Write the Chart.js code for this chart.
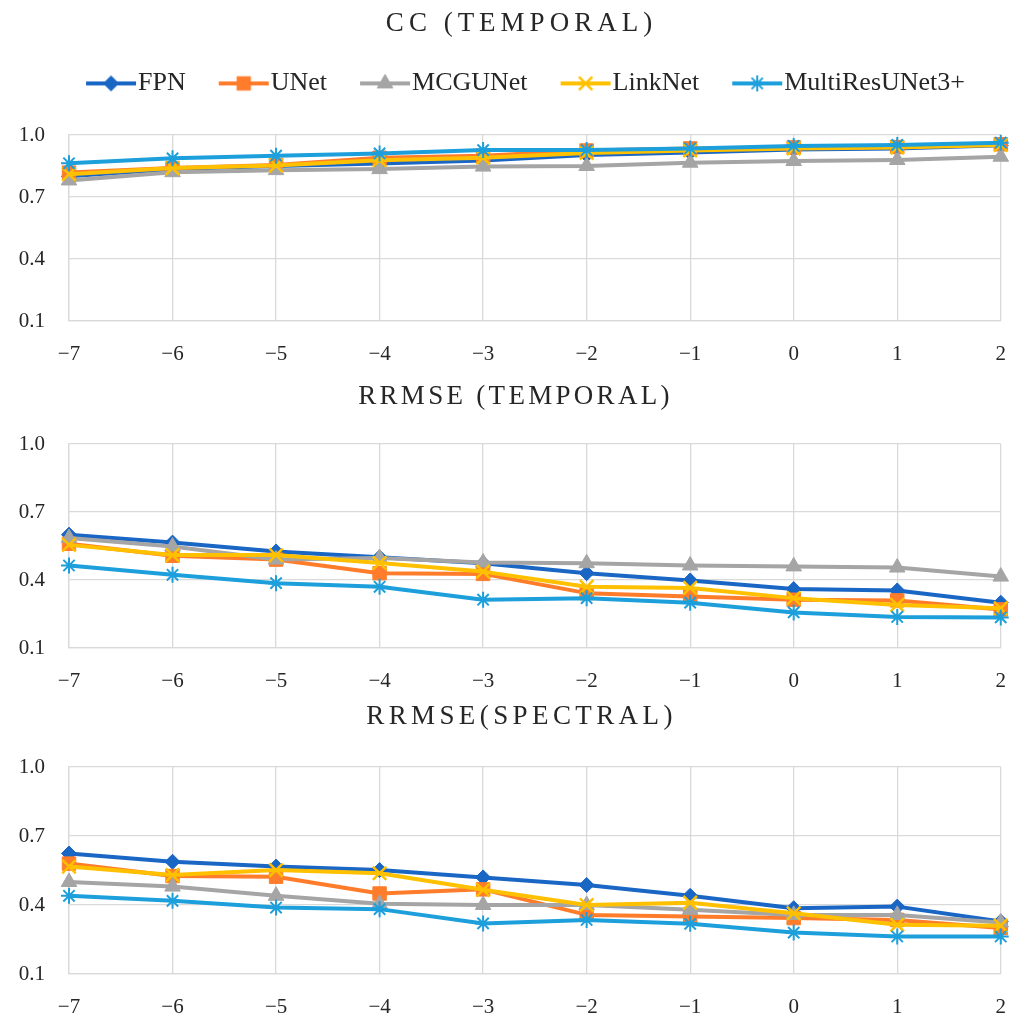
<!DOCTYPE html>
<html>
<head>
<meta charset="utf-8">
<script src="https://cdn.jsdelivr.net/npm/chart.js@4.4.0/dist/chart.umd.min.js"></script>
<style>
  html, body { margin: 0; padding: 0; background: #fff; }
  .panel { position: absolute; left: 0; width: 1027px; }
</style>
</head>
<body>
<div class="panel" style="top:0;height:370px"><canvas id="ccTemporal"></canvas></div>
<div class="panel" style="top:370px;height:325px"><canvas id="rrmseTemporal"></canvas></div>
<div class="panel" style="top:695px;height:326px"><canvas id="rrmseSpectral"></canvas></div>
<script>
// ---- data ----
const shifts = ['−7', '−6', '−5', '−4', '−3', '−2', '−1', '0', '1', '2'];
const yTicks = [0.1, 0.4, 0.7, 1.0];
const models = ['FPN', 'UNet', 'MCGUNet', 'LinkNet', 'MultiResUNet3+'];

// CC (TEMPORAL)
const ccFPN      = [0.800, 0.835, 0.850, 0.862, 0.877, 0.903, 0.915, 0.930, 0.935, 0.950];
const ccUNet     = [0.818, 0.840, 0.855, 0.890, 0.900, 0.925, 0.935, 0.940, 0.942, 0.955];
const ccMCGUNet  = [0.780, 0.820, 0.830, 0.835, 0.847, 0.850, 0.866, 0.874, 0.879, 0.895];
const ccLinkNet  = [0.810, 0.840, 0.852, 0.878, 0.890, 0.913, 0.925, 0.935, 0.940, 0.952];
const ccMultiRes = [0.863, 0.887, 0.900, 0.911, 0.927, 0.927, 0.935, 0.947, 0.952, 0.963];

// RRMSE (TEMPORAL)
const rtFPN      = [0.600, 0.565, 0.526, 0.500, 0.474, 0.430, 0.398, 0.360, 0.354, 0.300];
const rtUNet     = [0.560, 0.507, 0.490, 0.430, 0.427, 0.342, 0.327, 0.313, 0.310, 0.270];
const rtMCGUNet  = [0.585, 0.548, 0.490, 0.497, 0.477, 0.474, 0.464, 0.460, 0.455, 0.415];
const rtLinkNet  = [0.555, 0.510, 0.510, 0.475, 0.437, 0.370, 0.365, 0.320, 0.290, 0.275];
const rtMultiRes = [0.464, 0.423, 0.386, 0.370, 0.313, 0.320, 0.300, 0.257, 0.237, 0.235];

// RRMSE (SPECTRAL)
const rsFPN      = [0.624, 0.588, 0.567, 0.552, 0.520, 0.487, 0.440, 0.386, 0.393, 0.328];
const rsUNet     = [0.580, 0.526, 0.523, 0.450, 0.468, 0.357, 0.350, 0.343, 0.335, 0.300];
const rsMCGUNet  = [0.500, 0.480, 0.440, 0.405, 0.400, 0.400, 0.379, 0.357, 0.357, 0.324];
const rsLinkNet  = [0.567, 0.530, 0.552, 0.538, 0.466, 0.400, 0.410, 0.364, 0.314, 0.310];
const rsMultiRes = [0.440, 0.418, 0.389, 0.382, 0.320, 0.335, 0.318, 0.280, 0.263, 0.263];

// ---- look ----
const colors       = ['#1a66c4', '#ff7c2a', '#a5a5a5', '#ffc000', '#1d9fdc'];
const markerStyles = ['rectRot', 'rect', 'triangle', 'crossRot', 'star'];
const markerRadius = [7.5, 9.5, 9, 9.5, 8];
const markerBorder = [1, 1, 1, 2.5, 2];
const LINE_W = 4;
const GRID = '#d9d9d9';
const INK = '#262626';
const SERIF = '"Liberation Serif", "DejaVu Serif", serif';
const LEGEND_FONT = 26;

Chart.defaults.font.family = SERIF;
Chart.defaults.color = INK;

// legend swatch: short line with the marker on it, drawn right-aligned
// so the label text sits right after it
const ICON_W = 86, ICON_H = 26;
function legendIcon(i) {
    const c = document.createElement('canvas');
    c.width = ICON_W; c.height = ICON_H;
    const ctx = c.getContext('2d');
    const x0 = ICON_W - 51, x1 = ICON_W - 1, y = ICON_H / 2;
    ctx.strokeStyle = colors[i];
    ctx.fillStyle = colors[i];
    ctx.lineWidth = LINE_W;
    ctx.beginPath(); ctx.moveTo(x0, y); ctx.lineTo(x1, y); ctx.stroke();
    ctx.lineWidth = markerBorder[i];
    Chart.helpers.drawPoint(ctx, {
        pointStyle: markerStyles[i], radius: markerRadius[i], rotation: 0, borderWidth: markerBorder[i]
    }, (x0 + x1) / 2, y);
    return c;
}
const legendIcons = models.map((m, i) => legendIcon(i));

// letter-spaced title, and small horizontal nudges for title and legend
function wrapDraw(box, ctx, spacing, shift) {
    if (!box || box.nudged) return;
    const draw = box.draw.bind(box);
    box.nudged = true;
    box.draw = function (area) {
        ctx.save();
        ctx.letterSpacing = spacing + 'px';
        ctx.translate(shift, 0);
        draw(area);
        ctx.restore();
    };
}
const nudge = {
    id: 'nudge',
    beforeDraw(chart, args, opts) {
        wrapDraw(chart.titleBlock, chart.ctx, opts.titleSpacing || 0, opts.titleShift || 0);
        wrapDraw(chart.legend, chart.ctx, 0, opts.legendShift || 0);
    }
};

const PLOT_LEFT = 69, PAD_RIGHT = 20;

function buildPanel(canvasId, title, series, cfg) {
    const datasets = series.map((values, i) => ({
        label: models[i],
        data: values,
        borderColor: colors[i],
        backgroundColor: colors[i],
        borderWidth: LINE_W,
        borderJoinStyle: 'round',
        tension: 0,
        pointStyle: markerStyles[i],
        pointRadius: markerRadius[i],
        pointBorderWidth: markerBorder[i],
        pointBackgroundColor: colors[i],
        pointBorderColor: colors[i],
        clip: false,
        order: models.length - 1 - i
    }));

    const scales = {
        x: {
            grid: { color: GRID, lineWidth: 1.3, drawTicks: false },
            border: { color: GRID, width: 1.3 },
            ticks: { padding: 21, font: { size: 21 }, color: INK, maxRotation: 0, autoSkip: false },
            afterFit: s => { s.height = cfg.xAxisHeight; }
        },
        y: {
            min: yTicks[0],
            max: yTicks[yTicks.length - 1],
            grid: { color: GRID, lineWidth: 1.3, drawTicks: false },
            border: { color: GRID, width: 1.3 },
            ticks: { padding: 24, font: { size: 21 }, color: INK, callback: v => v.toFixed(1) },
            afterBuildTicks: s => { s.ticks = yTicks.map(v => ({ value: v })); },
            afterFit: s => { s.width = PLOT_LEFT; }
        }
    };
    if (cfg.legendGap) {
        // empty top axis that only keeps room between legend and plot
        scales.gap = {
            type: 'category', position: 'top',
            grid: { display: false }, border: { display: false }, ticks: { display: false },
            afterFit: s => { s.height = cfg.legendGap; }
        };
    }

    return new Chart(document.getElementById(canvasId), {
        type: 'line',
        data: { labels: shifts, datasets },
        options: {
            responsive: true,
            maintainAspectRatio: false,
            animation: false,
            events: [],
            layout: { padding: { left: 0, right: PAD_RIGHT, top: 0, bottom: 0 } },
            scales,
            plugins: {
                title: {
                    display: true,
                    text: title,
                    color: INK,
                    font: { size: 27, weight: 'normal' },
                    padding: cfg.titlePad
                },
                nudge: { titleSpacing: cfg.titleSpacing, titleShift: cfg.titleShift, legendShift: 10.5 },
                legend: {
                    display: !!cfg.legendGap,
                    position: 'top',
                    labels: {
                        usePointStyle: true,
                        pointStyleWidth: 62,
                        padding: 10,
                        color: INK,
                        font: { size: LEGEND_FONT },
                        sort: (a, b) => a.datasetIndex - b.datasetIndex,
                        generateLabels: chart =>
                            Chart.defaults.plugins.legend.labels.generateLabels(chart)
                                .map(item => Object.assign(item, { pointStyle: legendIcons[item.datasetIndex] }))
                    }
                },
                tooltip: { enabled: false }
            }
        },
        plugins: [nudge]
    });
}

buildPanel('ccTemporal', 'CC (TEMPORAL)',
    [ccFPN, ccUNet, ccMCGUNet, ccLinkNet, ccMultiRes],
    { titlePad: { top: 8, bottom: 20 }, titleSpacing: 5, titleShift: 18, legendGap: 28.6, xAxisHeight: 49 });

buildPanel('rrmseTemporal', 'RRMSE (TEMPORAL)',
    [rtFPN, rtUNet, rtMCGUNet, rtLinkNet, rtMultiRes],
    { titlePad: { top: 11, bottom: 30.6 }, titleSpacing: 3.3, titleShift: 12, legendGap: 0, xAxisHeight: 47 });

buildPanel('rrmseSpectral', 'RRMSE(SPECTRAL)',
    [rsFPN, rsUNet, rsMCGUNet, rsLinkNet, rsMultiRes],
    { titlePad: { top: 6, bottom: 33.6 }, titleSpacing: 4.4, titleShift: 18, legendGap: 0, xAxisHeight: 47 });
</script>
</body>
</html>
